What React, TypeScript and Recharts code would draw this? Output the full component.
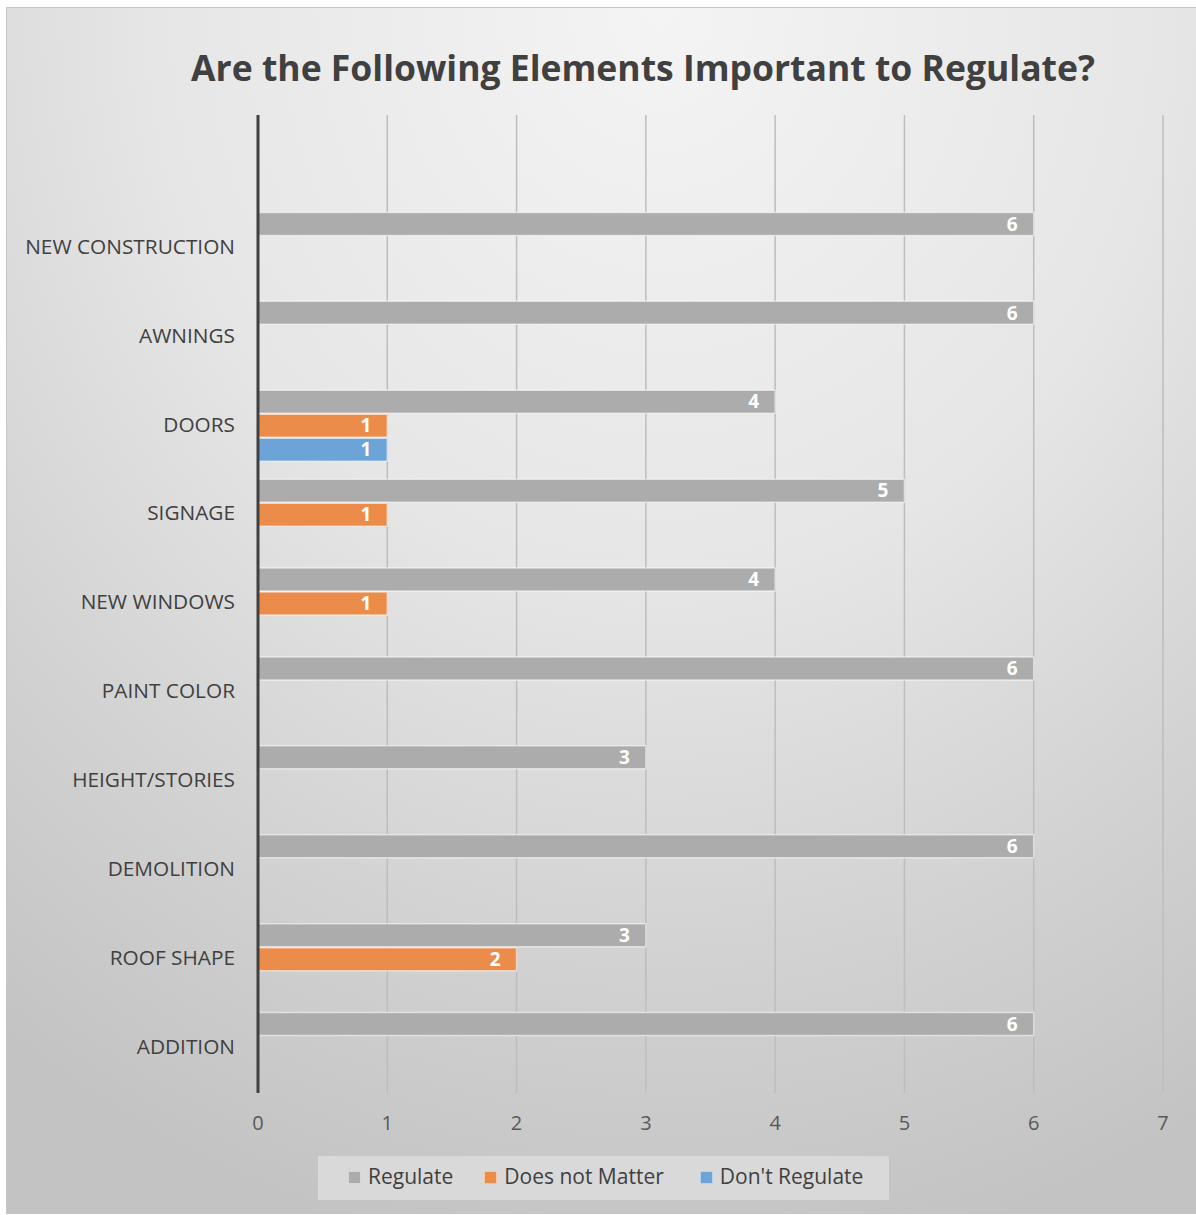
import React from 'react';
import { BarChart, Bar, XAxis, YAxis, CartesianGrid, LabelList } from 'recharts';

const categories = ['', 'NEW CONSTRUCTION', 'AWNINGS', 'DOORS', 'SIGNAGE', 'NEW WINDOWS', 'PAINT COLOR', 'HEIGHT/STORIES', 'DEMOLITION', 'ROOF SHAPE', 'ADDITION'];
const regulate = [null, 6, 6, 4, 5, 4, 6, 3, 6, 3, 6];
const doesNotMatter = [null, null, null, 1, 1, 1, null, null, null, 2, null];
const dontRegulate = [null, null, null, 1, null, null, null, null, null, null, null];
const xTicks = [0, 1, 2, 3, 4, 5, 6, 7];

const seriesNames = ['Regulate', 'Does not Matter', "Don't Regulate"];
const seriesColors = ['#acacac', '#ec8c4b', '#6ca4d8'];

const data = categories.map((name, i) => ({
  name,
  regulate: regulate[i],
  doesNotMatter: doesNotMatter[i],
  dontRegulate: dontRegulate[i],
}));

const FONT = '"Open Sans", "Liberation Sans", sans-serif';

const labelStyle = { fill: '#ffffff', fontSize: 19, fontWeight: 700, fontFamily: FONT };

export default function App() {
  const keys = ['regulate', 'doesNotMatter', 'dontRegulate'];
  return (
    <div
      style={{
        position: 'absolute',
        left: 6,
        top: 7,
        width: 1190,
        height: 1207,
        boxSizing: 'border-box',
        borderTop: '1px solid #c6c6c6',
        borderLeft: '1px solid #c6c6c6',
        background: 'radial-gradient(ellipse 95% 105% at 55% 0%, #f4f4f4 0%, #e6e6e6 45%, #d2d2d2 75%, #c3c3c3 100%)',
        fontFamily: FONT,
      }}
    >
      <div
        style={{
          position: 'absolute',
          left: 0,
          width: 1272,
          top: 36,
          textAlign: 'center',
          fontSize: 35.5,
          fontWeight: 700,
          color: '#404040',
          lineHeight: '46px',
          whiteSpace: 'nowrap',
        }}
      >
        Are the Following Elements Important to Regulate?
      </div>
      <div style={{ position: 'absolute', left: -1, top: -1 }}>
        <BarChart
          width={1190}
          height={1207}
          data={data}
          layout="vertical"
          margin={{ top: 108, right: 33, left: 0, bottom: 81 }}
          barCategoryGap={8.5}
          barGap={1}
        >
          <CartesianGrid horizontal={false} stroke="#bdbdbd" strokeWidth={1.5} />
          <XAxis
            type="number"
            domain={[0, 7]}
            ticks={xTicks}
            interval={0}
            axisLine={false}
            tickLine={false}
            tickSize={0}
            tickMargin={23}
            height={40}
            tick={{ fill: '#595959', fontSize: 20, fontFamily: FONT }}
          />
          <YAxis
            type="category"
            dataKey="name"
            width={252}
            interval={0}
            axisLine={{ stroke: '#404040', strokeWidth: 3 }}
            tickLine={false}
            tickSize={0}
            tickMargin={23}
            tick={{ fill: '#404040', fontSize: 20.8, fontFamily: FONT, dy: -2 }}
          />
          {keys.map((k, i) => (
            <Bar
              key={k}
              dataKey={k}
              name={seriesNames[i]}
              fill={seriesColors[i]}
              stroke="#ffffff"
              strokeOpacity={0.55}
              strokeWidth={1.5}
              isAnimationActive={false}
            >
              <LabelList dataKey={k} position="insideRight" offset={16} style={labelStyle} />
            </Bar>
          ))}
        </BarChart>
      </div>
      <div
        style={{
          position: 'absolute',
          left: 311,
          top: 1148,
          width: 571,
          height: 44,
          background: '#d9d9d9',
          display: 'flex',
          alignItems: 'center',
          paddingLeft: 30,
          paddingBottom: 4,
          boxSizing: 'border-box',
          color: '#404040',
          fontSize: 21,
          whiteSpace: 'nowrap',
        }}
      >
        {seriesNames.map((n, i) => (
          <div key={n} style={{ display: 'flex', alignItems: 'center', flexShrink: 0, marginRight: i === 0 ? 31 : 36 }}>
            <span
              style={{
                display: 'inline-block',
                width: 13,
                height: 13,
                background: seriesColors[i],
                border: '1px solid rgba(255,255,255,0.5)',
                boxSizing: 'border-box',
                marginRight: 7,
                marginTop: 3,
              }}
            />
            <span>{n}</span>
          </div>
        ))}
      </div>
    </div>
  );
}
